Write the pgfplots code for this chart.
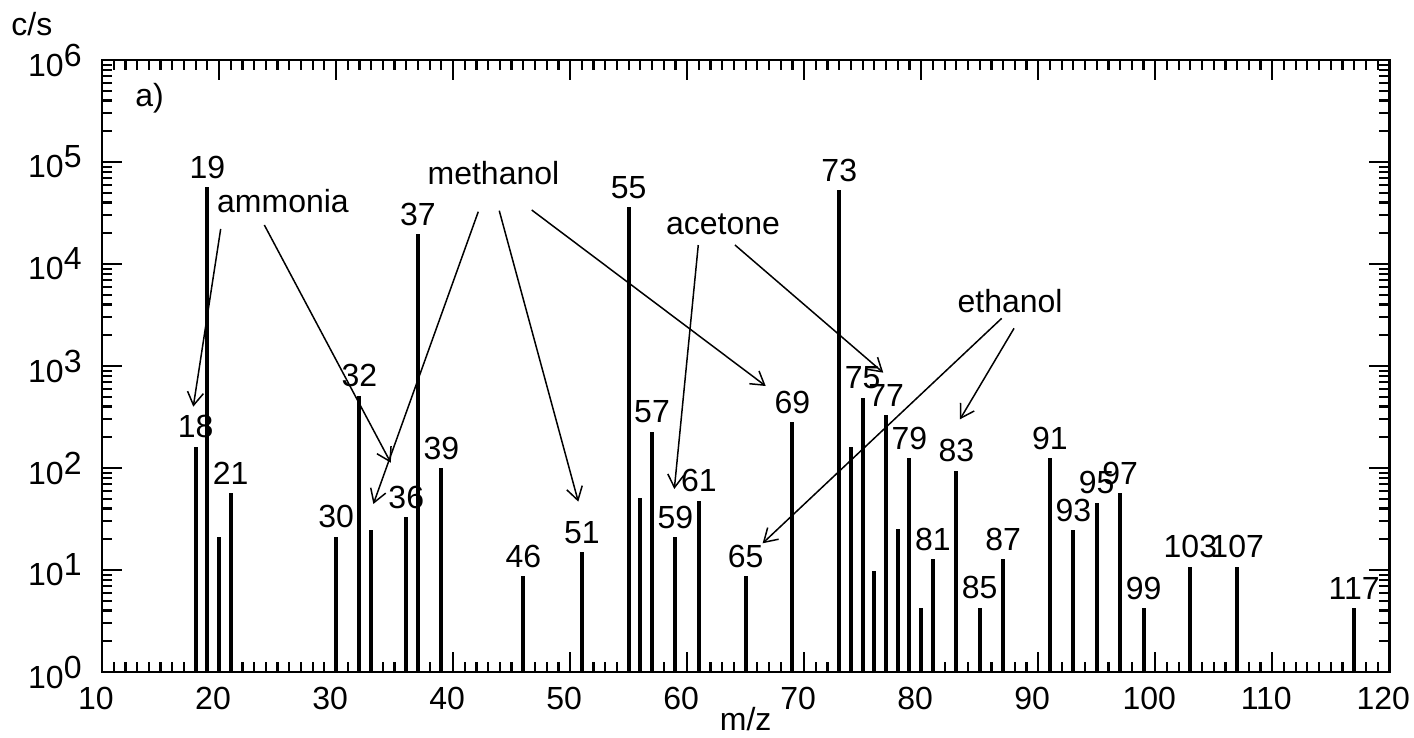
\documentclass[border=0pt]{standalone}
\usepackage{fontspec}
\setmainfont{Liberation Sans}
\usepackage{pgfplots}
\pgfplotsset{compat=1.18}
\usetikzlibrary{arrows.meta,calc}
\newcommand{\ex}[1]{10\raisebox{5pt}{#1}}
\begin{document}
\begin{tikzpicture}[font=\fontsize{16pt}{19pt}\selectfont]
\begin{axis}[
  scale only axis, width=643.65pt, height=306pt,
  ymode=log, xmin=10, xmax=120, ymin=1, ymax=1e6,
  clip=false,
  /pgf/number format/assume math mode=true,
  xtick={10,20,...,120}, minor x tick num=9,
  ytick={1,10,100,1000,10000,100000,1000000},
  yticklabels={\ex0,\ex1,\ex2,\ex3,\ex4,\ex5,\ex6},
  major tick length=10pt, minor tick length=5pt,
  tick style={line width=1.1pt, black},
  axis line style={line width=1.4pt},
  xticklabel style={anchor=north, inner sep=0pt, yshift=-7.3pt, xshift=-3pt},
  yticklabel style={anchor=east, inner sep=0pt, xshift=-10pt},
  xlabel={m/z},
  xlabel style={at={(axis description cs:0.5,0)}, anchor=base, inner sep=0pt, yshift=-29.3pt},
]
% unlabeled peaks
\addplot[ycomb, line width=2pt, black, mark=none] coordinates {
 (20,21.2) (33,24.7) (56,50.8) (74,162) (76,9.8) (78,25.1) (80,4.27)
};
% labeled peaks
\addplot[ycomb, line width=2pt, black, mark=none,
  point meta=x, nodes near coords,
  every node near coord/.append style={anchor=south, inner sep=0pt, yshift=3.3pt, black}]
 coordinates {
 (18,162) (19,56500) (21,56.5) (30,21.2) (32,511) (36,32.8) (37,19700) (39,99)
 (46,8.7) (51,14.9) (55,36000) (57,227) (59,20.9) (61,47.8) (65,8.7) (69,282)
 (73,53100) (75,489) (77,331) (79,124) (81,12.7) (83,94) (85,4.27) (87,12.7)
 (91,124) (93,24.7) (95,45.7) (97,56.5) (99,4.2) (103,10.8) (107,10.8) (117,4.2)
};
\coordinate (SW) at (rel axis cs:0,0);
\coordinate (NE) at (rel axis cs:1,1);
% annotations
\node[anchor=base west, inner sep=0pt] at (rel axis cs:0.0256,0.9232) {a)};
\node[anchor=base, inner sep=0pt] at (rel axis cs:0.1406,0.7505) {ammonia};
\node[anchor=base, inner sep=0pt] at (rel axis cs:0.3041,0.7958) {methanol};
\node[anchor=base, inner sep=0pt] at (rel axis cs:0.4824,0.7141) {acetone};
\node[anchor=base, inner sep=0pt] at (rel axis cs:0.7054,0.5882) {ethanol};
\begin{scope}[line width=0.75pt, -{Straight Barb[length=6.5pt,width=8pt]}]
\draw (rel axis cs:0.0922,0.7239) -- (rel axis cs:0.0709,0.4335);
\draw (rel axis cs:0.1261,0.7304) -- (rel axis cs:0.2243,0.3420);
\draw (rel axis cs:0.2923,0.7521) -- (rel axis cs:0.2108,0.2745);
\draw (rel axis cs:0.3086,0.7538) -- (rel axis cs:0.3700,0.2783);
\draw (rel axis cs:0.3338,0.7549) -- (rel axis cs:0.5156,0.4673);
\draw (rel axis cs:0.4632,0.6977) -- (rel axis cs:0.4446,0.2990);
\draw (rel axis cs:0.4917,0.6977) -- (rel axis cs:0.6069,0.4891);
\draw (rel axis cs:0.6989,0.5779) -- (rel axis cs:0.5132,0.2103);
\draw (rel axis cs:0.7085,0.5616) -- (rel axis cs:0.6665,0.4129);
\end{scope}
\end{axis}
\node[anchor=base west, inner sep=0pt] at ($(SW|-NE)+(-45.5pt,12pt)$) {c/s};
\pgfresetboundingbox
\path[use as bounding box] ($(SW)+(-51pt,-33pt)$) rectangle ($(NE)+(12.35pt,30pt)$);
\end{tikzpicture}
\end{document}
